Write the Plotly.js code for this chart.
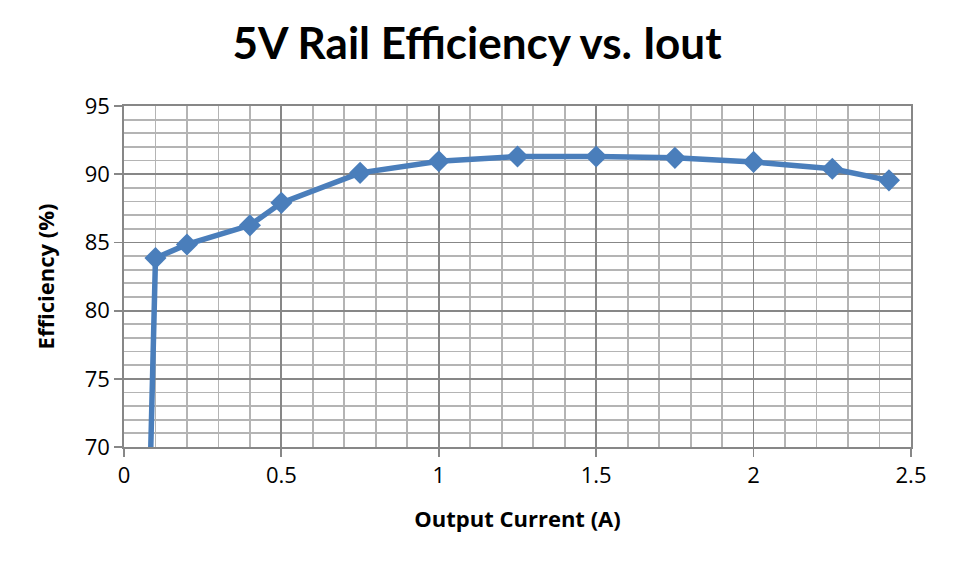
<!DOCTYPE html>
<html><head><meta charset="utf-8">
<script src="https://cdn.plot.ly/plotly-3.0.1.min.js"></script>
<style>html,body{margin:0;padding:0;background:#fff}#chart{width:954px;height:565px}</style>
</head><body><div id="chart"></div>
<script>
const outputCurrent = [0.01, 0.1, 0.2, 0.4, 0.5, 0.75, 1.0, 1.25, 1.5, 1.75, 2.0, 2.25, 2.43];
const efficiency    = [0,   83.85, 84.85, 86.25, 87.9, 90.1, 90.95, 91.3, 91.3, 91.2, 90.9, 90.4, 89.55];
const xTicks = [0, 0.5, 1, 1.5, 2, 2.5];
const xTickText = ['0', '0.5', '1', '1.5', '2', '2.5'];
const yTicks = [70, 75, 80, 85, 90, 95];

const titleFont = "Lato, 'Open Sans', sans-serif";
const font = "'Open Sans', 'Noto Sans', 'Liberation Sans', sans-serif";
const trace = {
  x: outputCurrent, y: efficiency, type: 'scatter', mode: 'lines+markers',
  line: {color: '#4a7ebb', width: 5.5},
  marker: {symbol: 'diamond', size: 17, color: '#4a7ebb'},
  cliponaxis: true, showlegend: false
};
const layout = {
  width: 954, height: 565,
  margin: {l: 124, r: 43, t: 106, b: 118},
  paper_bgcolor: '#fff', plot_bgcolor: '#fff',
  title: {text: '<b>5V Rail Efficiency vs. Iout</b>', x: 0.5, xanchor: 'center', y: 0.923, yanchor: 'middle',
          font: {family: titleFont, size: 44, color: '#000'}},
  xaxis: {
    range: [0, 2.5], tickvals: xTicks, ticktext: xTickText,
    showgrid: true, gridcolor: '#878787', gridwidth: 1.8,
    minor: {dtick: 0.1, showgrid: true, gridcolor: '#b4b4b4', gridwidth: 1.8, ticks: ''},
    showline: true, linecolor: '#878787', linewidth: 1.8, mirror: true,
    ticks: 'outside', ticklen: 8, tickcolor: '#878787', tickwidth: 1.8,
    tickfont: {family: font, size: 22, color: '#000'}, zeroline: false,
    title: {text: '<b>Output Current (A)</b>', font: {family: font, size: 22, color: '#000'}, standoff: 23}
  },
  yaxis: {
    range: [70, 95], tickvals: yTicks,
    showgrid: true, gridcolor: '#878787', gridwidth: 1.8,
    minor: {dtick: 1, showgrid: true, gridcolor: '#b4b4b4', gridwidth: 1.8, ticks: ''},
    showline: true, linecolor: '#878787', linewidth: 1.8, mirror: true,
    ticks: 'outside', ticklen: 8, tickcolor: '#878787', tickwidth: 1.8,
    tickfont: {family: font, size: 22, color: '#000'}, zeroline: false,
    title: {text: '<b>Efficiency (%)</b>', font: {family: font, size: 22, color: '#000'}, standoff: 24}
  }
};
Plotly.newPlot('chart', [trace], layout, {displayModeBar: false, staticPlot: true});
</script></body></html>
